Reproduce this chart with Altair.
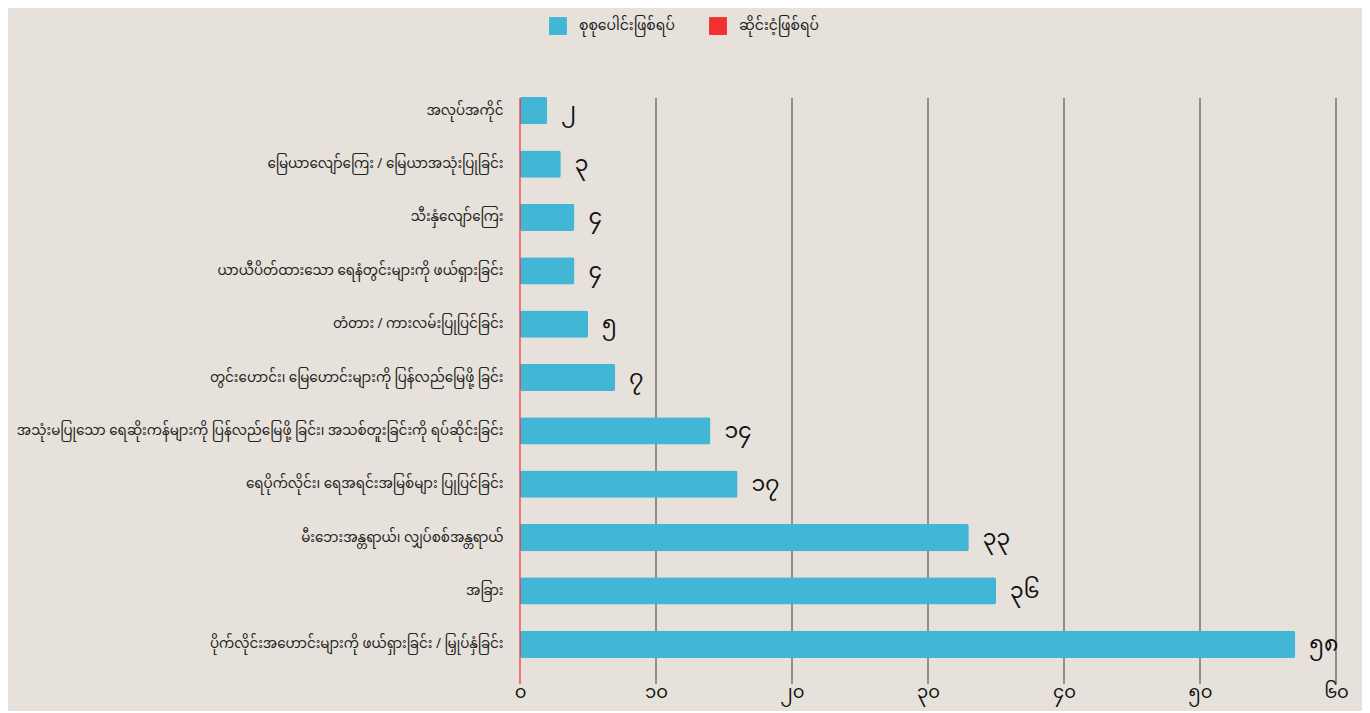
import altair as alt
import pandas as pd

categories = [
    "အလုပ်အကိုင်",
    "မြေယာလျော်ကြေး / မြေယာအသုံးပြုခြင်း",
    "သီးနှံလျော်ကြေး",
    "ယာယီပိတ်ထားသော ရေနံတွင်းများကို ဖယ်ရှားခြင်း",
    "တံတား / ကားလမ်းပြုပြင်ခြင်း",
    "တွင်းဟောင်း၊ မြေဟောင်းများကို ပြန်လည်မြေဖို့ ခြင်း",
    "အသုံးမပြုသော ရေဆိုးကန်များကို ပြန်လည်မြေဖို့ ခြင်း၊ အသစ်တူးခြင်းကို ရပ်ဆိုင်းခြင်း",
    "ရေပိုက်လိုင်း၊ ရေအရင်းအမြစ်များ ပြုပြင်ခြင်း",
    "မီးဘေးအန္တရာယ်၊ လျှပ်စစ်အန္တရာယ်",
    "အခြား",
    "ပိုက်လိုင်းအဟောင်းများကို ဖယ်ရှားခြင်း / မြှုပ်နှံခြင်း",
]
# bar lengths as drawn in the picture
bar_values = [2, 3, 4, 4, 5, 7, 14, 16, 33, 35, 57]
# numbers printed beside the bars
label_values = [2, 3, 4, 4, 5, 7, 14, 17, 33, 36, 58]
x_ticks = [0, 10, 20, 30, 40, 50, 60]
series_names = ["စုစုပေါင်းဖြစ်ရပ်", "ဆိုင်းငံ့ဖြစ်ရပ်"]
series_colors = ["#41b6d5", "#f2302f"]

MY_DIGITS = "၀၁၂၃၄၅၆၇၈၉"


def to_my(n):
    return "".join(MY_DIGITS[int(c)] for c in str(n))


tick_labels = [to_my(t) for t in x_ticks]

FONT = "Noto Sans Myanmar, Padauk, Myanmar Text, Noto Sans, sans-serif"

W, H = 816, 587

bars_df = pd.DataFrame({
    "cat": categories,
    "value": bar_values,
    "label": [to_my(v) for v in label_values],
    "series": series_names[0],
})
grid_df = pd.DataFrame({"x": x_ticks[1:]})
zero_df = pd.DataFrame({"x": [0], "series": [series_names[1]]})

x_scale = alt.Scale(domain=[0, 60], nice=False)
y_enc = alt.Y("cat:N", sort=categories, title=None,
              scale=alt.Scale(paddingInner=0.49, paddingOuter=0.245),
              axis=alt.Axis(ticks=False, domain=False, labelFont=FONT,
                            labelFontSize=13.5, labelColor="#222222",
                            labelPadding=17, labelLimit=600))
color_scale = alt.Scale(domain=series_names, range=series_colors)

grid = alt.Chart(grid_df).mark_rule(color="#3a3a3a", strokeWidth=1).encode(
    x=alt.X("x:Q", scale=x_scale),
    y=alt.value(14),
    y2=alt.value(H + 13),
)

bars = alt.Chart(bars_df).mark_bar(cornerRadius=2).encode(
    x=alt.X("value:Q", scale=x_scale, title=None,
            axis=alt.Axis(values=x_ticks, grid=False, ticks=False, domain=False,
                          labelFont=FONT, labelFontSize=18, labelColor="#111111",
                          labelPadding=12, labelFlush=False, labelOverlap=False,
                          labelExpr="[" + ",".join("'%s'" % t for t in tick_labels) + "][round(datum.value/10)]")),
    y=y_enc,
    color=alt.Color("series:N", scale=color_scale, title=None,
                    legend=alt.Legend(orient="none", direction="horizontal",
                                      legendX=29, legendY=-67,
                                      symbolType="square", symbolSize=320,
                                      symbolStrokeWidth=0, labelFont=FONT,
                                      labelFontSize=14, labelColor="#222222",
                                      labelOffset=12, columnPadding=34)),
)

text = alt.Chart(bars_df).mark_text(align="left", baseline="middle", dx=14,
                                    fontSize=22, font=FONT, color="#111111").encode(
    x=alt.X("value:Q", scale=x_scale),
    y=alt.Y("cat:N", sort=categories),
    text="label:N",
)

zero = alt.Chart(zero_df).mark_rule(strokeWidth=1.2).encode(
    x=alt.X("x:Q", scale=x_scale),
    y=alt.value(14),
    y2=alt.value(H + 13),
    color=alt.Color("series:N", scale=color_scale),
)

chart = alt.layer(grid, bars, text, zero).properties(
    width=W, height=H,
    background="#e6e2db",
    padding={"left": 512, "top": 76, "right": 26, "bottom": 40},
    autosize=alt.AutoSizeParams(type="none"),
).configure_view(stroke=None)

chart.save("out.html", embed_options={"renderer": "svg", "actions": False})
